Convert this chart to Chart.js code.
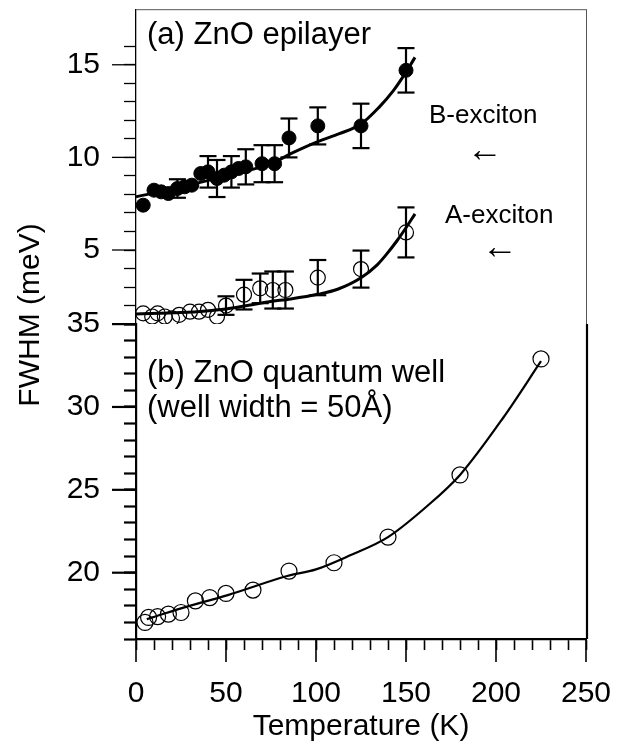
<!DOCTYPE html>
<html>
<head>
<meta charset="utf-8">
<title>FWHM vs temperature</title>
<script src="https://cdn.jsdelivr.net/npm/chart.js@4.4.0/dist/chart.umd.min.js"></script>
<style>
  body { margin: 0; background: #fff; }
  #wrap { width: 617px; height: 749px; }
</style>
</head>
<body>
<div id="wrap"><canvas id="fwhmChart"></canvas></div>
<script>
// (a) ZnO epilayer - B-exciton, filled circles with error bars
const bTemp = [4, 10, 14, 18, 23, 27, 31, 36, 40, 45, 49, 53, 57, 61, 70, 77, 85, 101, 125, 150];
const bFwhm = [7.42, 8.23, 8.14, 8.05, 8.32, 8.41, 8.5, 9.13, 9.22, 8.86, 9.04, 9.22, 9.4, 9.49, 9.66, 9.66, 11.05, 11.7, 11.7, 14.7];
const bErr = [0, 0, 0, 0, 0.5, 0, 0, 0, 0.85, 1.0, 0, 0.85, 0, 0.95, 1.0, 1.0, 1.05, 1.0, 1.2, 1.2];

// (a) ZnO epilayer - A-exciton, open circles with error bars
const aTemp = [4, 9, 12, 16, 20, 24, 30, 35, 40, 45, 50, 60, 69, 76, 83, 101, 125, 150];
const aFwhm = [1.58, 1.41, 1.58, 1.41, 1.31, 1.5, 1.67, 1.67, 1.77, 1.41, 2.0, 2.59, 2.93, 2.84, 2.84, 3.51, 3.97, 5.95];
const aErr = [0, 0, 0, 0, 0, 0, 0, 0, 0, 0, 0.5, 0.8, 0.8, 1.0, 1.0, 0.95, 1.0, 1.35];

// fitted curves of panel (a)
const bFitTemp = [0, 25, 50, 75, 86, 101, 113, 125, 135, 143, 150, 155];
const bFitFwhm = [7.87, 8.4, 9.0, 9.66, 10.2, 10.85, 11.28, 11.8, 12.7, 13.6, 14.6, 15.4];
const aFitTemp = [0, 25, 50, 74, 86, 101, 112, 125, 134, 139, 145, 150, 155];
const aFitFwhm = [1.55, 1.62, 1.82, 2.21, 2.36, 2.61, 2.88, 3.5, 4.2, 4.75, 5.5, 6.2, 6.95];

// (b) ZnO quantum well
const qwTemp = [5, 7, 12, 18, 25, 33, 41, 50, 65, 85, 110, 140, 180, 225];
const qwFwhm = [17.0, 17.3, 17.35, 17.5, 17.6, 18.3, 18.5, 18.75, 18.95, 20.1, 20.6, 22.15, 25.9, 32.9];
const qwFitTemp = [6, 25, 51, 84, 100, 119, 140, 161, 180, 204, 225];
const qwFitFwhm = [17.2, 17.85, 18.65, 19.8, 20.2, 21.05, 22.15, 23.95, 25.9, 29.35, 32.76];

// tick labels
const xLabels = [0, 50, 100, 150, 200, 250];
const topLabels = [5, 10, 15];
const bottomLabels = [20, 25, 30, 35];

const FONT = "'Liberation Sans', Arial, sans-serif";
Chart.defaults.font.family = FONT;
Chart.defaults.color = '#000';

function toPoints(xs, ys) {
    return xs.map((x, i) => ({ x: x, y: ys[i] }));
}

function strokeLine(ctx, x1, y1, x2, y2) {
    ctx.beginPath();
    ctx.moveTo(x1, y1);
    ctx.lineTo(x2, y2);
    ctx.stroke();
}

// fixed axis size, and no extra room for the end labels
function fixSize(s, w, h) {
    if (w) s.width = w;
    if (h) s.height = h;
    s.paddingTop = 0;
    s.paddingBottom = 0;
    s.paddingLeft = 0;
    s.paddingRight = 0;
}

// vertical error bars with caps, for datasets that carry an errors array
const errorBars = {
    id: 'errorBars',
    afterDatasetsDraw(chart) {
        const ctx = chart.ctx;
        const xs = chart.scales.x;
        ctx.save();
        ctx.strokeStyle = '#000';
        ctx.lineWidth = 2.2;
        chart.data.datasets.forEach(ds => {
            if (!ds.errors) return;
            const ys = chart.scales[ds.yAxisID];
            ds.data.forEach((p, i) => {
                const e = ds.errors[i];
                if (!e) return;
                const px = xs.getPixelForValue(p.x);
                const y1 = ys.getPixelForValue(p.y + e);
                const y2 = ys.getPixelForValue(p.y - e);
                strokeLine(ctx, px, y1, px, y2);
                strokeLine(ctx, px - 8.5, y1, px + 8.5, y1);
                strokeLine(ctx, px - 8.5, y2, px + 8.5, y2);
            });
        });
        ctx.restore();
    }
};

// long ticks at the labelled values, panel frame and the free text
const decorations = {
    id: 'decorations',
    afterDraw(chart) {
        const ctx = chart.ctx;
        const area = chart.chartArea;
        const xs = chart.scales.x;
        const yt = chart.scales.yTop;
        const yb = chart.scales.yBot;
        ctx.save();
        ctx.strokeStyle = '#000';

        ctx.lineWidth = 1.6;
        xLabels.forEach(v => {
            const px = xs.getPixelForValue(v);
            strokeLine(ctx, px, xs.top, px, xs.top + 23);
        });
        ctx.lineWidth = 1.3;
        topLabels.forEach(v => {
            const py = yt.getPixelForValue(v);
            strokeLine(ctx, yt.right - 24, py, yt.right, py);
        });
        ctx.lineWidth = 2.2;
        bottomLabels.forEach(v => {
            const py = yb.getPixelForValue(v);
            strokeLine(ctx, yb.right - 24, py, yb.right, py);
        });

        // frame: thin box round (a), heavy right edge for (b)
        ctx.strokeStyle = '#555';
        ctx.lineWidth = 1;
        strokeLine(ctx, area.left, area.top + 0.5, area.right, area.top + 0.5);
        strokeLine(ctx, area.right + 0.5, area.top, area.right + 0.5, yt.bottom);
        ctx.strokeStyle = '#000';
        ctx.lineWidth = 2.2;
        strokeLine(ctx, area.right + 1, yb.top, area.right + 1, area.bottom);

        ctx.fillStyle = '#000';
        ctx.textBaseline = 'alphabetic';
        ctx.textAlign = 'left';
        ctx.font = '31px ' + FONT;
        ctx.fillText('(a) ZnO epilayer', area.left + 11, 43.5);
        ctx.fillText('(b) ZnO quantum well', area.left + 11, 382);
        ctx.fillText('(well width = 50Å)', area.left + 11, 417);
        ctx.font = '26px ' + FONT;
        ctx.fillText('B-exciton', 429, 123);
        ctx.fillText('A-exciton', 445, 223);
        ctx.textAlign = 'center';
        ctx.textBaseline = 'middle';
        ctx.font = '36px ' + FONT;
        ctx.fillText('←', 485, 151);
        ctx.fillText('←', 500, 248);

        // shared y title
        ctx.translate(38.5, 315);
        ctx.rotate(-Math.PI / 2);
        ctx.textBaseline = 'alphabetic';
        ctx.font = '30px ' + FONT;
        ctx.fillText('FWHM (meV)', 0, 0);
        ctx.restore();
    }
};

function yScale(min, max, labels, tickWidth, lastTick) {
    return {
        type: 'linear',
        position: 'left',
        stack: 'panels',
        stackWeight: 1,
        min: min,
        max: max,
        border: { display: true, color: '#000', width: tickWidth },
        grid: {
            drawOnChartArea: false,
            drawTicks: true,
            tickLength: 12,
            tickWidth: tickWidth,
            tickColor: c => (c.tick && c.tick.value > lastTick) ? 'rgba(0,0,0,0)' : '#000'
        },
        ticks: {
            stepSize: 1,
            autoSkip: false,
            padding: 24,
            font: { size: 30 },
            callback: v => labels.includes(v) ? String(v) : ''
        },
        afterFit: s => fixSize(s, 136, 0)
    };
}

new Chart(document.getElementById('fwhmChart'), {
    type: 'scatter',
    data: {
        datasets: [
            {
                label: 'B-exciton fit', type: 'line', yAxisID: 'yTop',
                data: toPoints(bFitTemp, bFitFwhm),
                borderColor: '#000', borderWidth: 3, pointRadius: 0,
                cubicInterpolationMode: 'monotone', fill: false
            },
            {
                label: 'A-exciton fit', type: 'line', yAxisID: 'yTop',
                data: toPoints(aFitTemp, aFitFwhm),
                borderColor: '#000', borderWidth: 3, pointRadius: 0,
                cubicInterpolationMode: 'monotone', fill: false
            },
            {
                label: 'QW fit', type: 'line', yAxisID: 'yBot',
                data: toPoints(qwFitTemp, qwFitFwhm),
                borderColor: '#000', borderWidth: 2.2, pointRadius: 0,
                cubicInterpolationMode: 'monotone', fill: false
            },
            {
                label: 'B-exciton', yAxisID: 'yTop',
                data: toPoints(bTemp, bFwhm), errors: bErr,
                pointRadius: 7, pointBackgroundColor: '#000', pointBorderColor: '#000', pointBorderWidth: 1
            },
            {
                label: 'A-exciton', yAxisID: 'yTop',
                data: toPoints(aTemp, aFwhm), errors: aErr,
                pointRadius: 7.5, pointBackgroundColor: 'rgba(0,0,0,0)', pointBorderColor: '#000', pointBorderWidth: 1.2
            },
            {
                label: 'Quantum well', yAxisID: 'yBot',
                data: toPoints(qwTemp, qwFwhm),
                pointRadius: 8, pointBackgroundColor: 'rgba(0,0,0,0)', pointBorderColor: '#000', pointBorderWidth: 1.2
            }
        ]
    },
    options: {
        responsive: true,
        maintainAspectRatio: false,
        animation: false,
        layout: { padding: { top: 7, right: 31, left: 0, bottom: 0 } },
        plugins: { legend: { display: false }, tooltip: { enabled: false } },
        scales: {
            x: {
                type: 'linear',
                position: 'bottom',
                min: 0,
                max: 250,
                border: { display: true, color: '#000', width: 2.2 },
                grid: { drawOnChartArea: false, drawTicks: true, tickLength: 11, tickWidth: 1.6, tickColor: '#000' },
                ticks: {
                    stepSize: 10,
                    autoSkip: false,
                    maxRotation: 0,
                    padding: 26,
                    font: { size: 30 },
                    callback: v => xLabels.includes(v) ? String(v) : ''
                },
                title: { display: true, text: 'Temperature (K)', font: { size: 30 }, padding: { top: 0, bottom: 4 } },
                afterFit: s => fixSize(s, 0, 110)
            },
            yBot: yScale(16, 35, bottomLabels, 2.2, 35),
            yTop: yScale(1, 18, topLabels, 1.3, 16)
        }
    },
    plugins: [errorBars, decorations]
});
</script>
</body>
</html>
